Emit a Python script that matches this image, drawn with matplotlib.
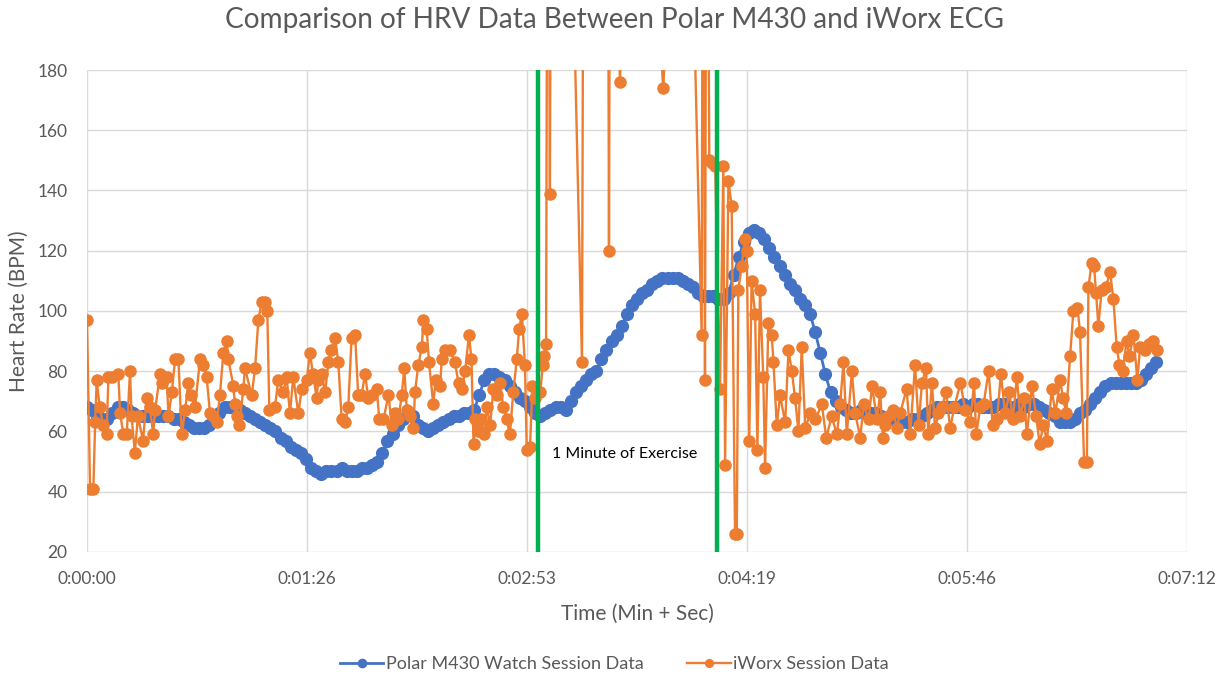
import matplotlib
matplotlib.use("Agg")
import matplotlib.pyplot as plt
import numpy as np

plt.rcParams['font.family'] = ['Lato', 'DejaVu Sans']

# Polar M430 watch, one reading every 2 s (t = 0 .. 420 s)
polar_step = 2
polar_hr = [68, 67, 65, 64, 64, 66, 68, 68, 67, 66, 65, 65, 65, 65, 65, 65, 65, 64, 64, 63,
            62, 61, 61, 61, 62, 64, 66, 68, 68, 68, 67, 66, 65, 64, 63, 62, 61, 60, 58, 57,
            55, 54, 53, 51, 48, 47, 46, 47, 47, 47, 48, 47, 47, 47, 48, 48, 49, 50, 53, 57,
            59, 62, 64, 66, 65, 62, 61, 60, 61, 62, 63, 64, 65, 65, 66, 66, 67, 72, 77, 79,
            79, 78, 77, 75, 73, 71, 70, 68, 66, 65, 66, 67, 68, 68, 67, 70, 73, 75, 77, 79,
            80, 84, 87, 90, 92, 95, 99, 102, 104, 106, 107, 109, 110, 111, 111, 111, 111, 110, 109, 108,
            106, 105, 105, 105, 104, 104, 106, 112, 118, 123, 126, 127, 126, 124, 121, 118, 115, 112, 109, 107,
            104, 102, 99, 93, 86, 79, 73, 70, 68, 67, 66, 66, 67, 66, 66, 66, 65, 64, 64, 64,
            63, 63, 64, 64, 65, 66, 67, 68, 68, 68, 68, 68, 69, 68, 69, 69, 68, 68, 68, 69,
            69, 68, 68, 69, 68, 69, 69, 68, 67, 66, 65, 63, 63, 63, 64, 66, 67, 69, 71, 73,
            75, 76, 76, 76, 76, 76, 76, 77, 79, 81, 83]
polar_t = np.arange(len(polar_hr)) * polar_step

# iWorx ECG beat times (s) and heart rate (values above 180 run off the chart)
ecg_t = [0, 1.2, 2.5, 3.2, 3.8, 5.0, 6.4, 7.7, 8.4, 9.7, 12.3, 13.0, 14.3, 15.6, 16.9, 17.5, 18.8,
         20.0, 22.0, 23.4, 24.7, 26.0, 26.7, 28.7, 29.3, 31.3, 32.0, 33.3, 34.6, 35.9, 37.2, 38.5,
         39.8, 41.0, 42.4, 44.4, 45.7, 47.0, 48.3, 49.6, 50.9, 52.2, 53.5, 54.8, 55.5,
         57.5, 58.1, 58.8, 59.8, 61.4, 62.0, 64.7, 66.0, 67.3, 68.6, 69.9, 70.8, 71.6, 73.8, 75.1,
         77.1, 78.4, 79.7, 81.0, 83.0, 84.3, 86.3, 87.5, 88.8, 90.2, 90.8, 92.1, 93.5, 94.8, 96.0,
         97.4, 98.7, 100.0, 101.4, 102.6, 103.9, 105.3, 106.5, 107.8, 109.2, 110.5, 111.8, 113.8, 114.8,
         116.4, 118.4, 119.7, 121.0, 122.3, 123.6, 124.6, 125.6, 126.9, 128.2, 128.8, 130.1, 131.5,
         132.1, 133.4, 134.3, 136.0, 136.9, 138.7, 139.3, 140.6, 142.6, 144.5, 145.9, 147.2, 148.5,
         150.0, 151.0, 151.8, 152.5, 153.5, 154.6, 155.8, 157.0, 158.3, 159.6, 160.9, 162.2, 163.5,
         164.8, 166.1, 167.4, 168.8, 169.7, 170.8, 172.0, 172.7, 174.0, 174.9, 176.0,
         178.0, 179.0, 179.6, 180.3, 181.0, 181.8, 182.5, 188.0, 194.4, 195.2, 204.4, 205.0, 205.6,
         209.3, 215.0, 226.3, 235.0, 241.4, 242.0, 242.7, 243.4,
         244.4, 245.5, 246.7, 248.6, 249.9, 250.6, 251.9, 253.2, 254.5, 255.2, 255.8, 257.1, 258.4,
         259.1, 260.1, 261.0, 262.4, 263.3, 264.3, 265.6, 266.3, 267.6, 268.9, 269.6, 270.9, 272.2,
         274.2, 275.5, 276.8, 278.1, 279.4, 280.7, 282.1, 284.0, 286.0, 288.6, 290.3, 292.5, 294.5,
         295.8, 297.1, 298.4, 300.4, 301.7, 303.7, 305.0, 307.0, 308.3, 310.3, 311.5, 312.6,
         313.4, 314.7, 316.7, 318.0, 319.3, 321.9, 323.3, 325.2, 326.6, 327.9, 329.5, 330.4, 331.8,
         333.1, 334.4, 335.7, 337.4, 339.0, 340.6, 343.0, 345.0, 346.9, 348.4, 349.2, 350.8, 352.1,
         354.1, 355.7, 357.4, 358.9, 360.6, 362.3, 363.6, 365.2, 366.5, 368.1, 369.1, 371.1, 372.8,
         374.1, 375.6, 377.0, 378.9, 380.3, 382.2, 383.3, 384.6, 386.1, 387.4, 389.0, 390.0, 391.6,
         392.7, 393.3, 394.6, 395.5, 396.3, 397.2, 398.5, 400.2, 401.8, 403.1, 404.4, 405.5, 406.8,
         408.3, 409.4, 411.0, 412.5, 413.6, 415.5, 417.2, 418.5, 420.1]
ecg_hr = [97, 41, 41, 63, 77, 68, 62, 59, 78, 78, 79, 66, 59, 59, 80, 65, 53,
          65, 57, 71, 68, 59, 67, 79, 76, 78, 65, 73, 84, 84, 59, 67,
          76, 72, 68, 84, 82, 78, 66, 65, 63, 72, 86, 90, 84,
          75, 69, 65, 62, 74, 81, 72, 81, 97, 103, 103, 100, 67, 68, 77,
          73, 78, 66, 78, 66, 74, 77, 86, 79, 71, 77, 79, 73, 83, 87,
          91, 83, 64, 63, 68, 91, 92, 72, 72, 79, 71, 72, 74, 64,
          64, 72, 62, 66, 64, 72, 81, 67, 65, 61, 73, 82, 88,
          97, 94, 83, 69, 77, 75, 84, 87, 87, 83, 76, 74, 80,
          92, 84, 56, 64, 60, 64, 59, 68, 62, 74, 72, 76, 68,
          64, 59, 73, 84, 94, 99, 82, 54, 55, 75, 71,
          73, 82, 85, 89, 320, 139, 330, 320, 83, 320, 320, 120, 320,
          176, 330, 174, 320, 92, 320, 77, 320,
          150, 149, 148, 74, 148, 49, 143, 135, 26, 26, 107, 115, 124,
          120, 57, 110, 99, 54, 107, 78, 48, 96, 92, 83, 62, 72,
          63, 87, 80, 71, 60, 88, 61, 66, 64, 69, 58, 65, 59,
          69, 83, 59, 80, 66, 58, 69, 64, 75, 64, 73, 58,
          62, 65, 67, 61, 66, 74, 59, 82, 62, 76, 81, 59, 76,
          61, 66, 68, 73, 61, 68, 76, 67, 63, 76, 59, 68, 69,
          80, 62, 64, 79, 66, 73, 64, 78, 65, 71, 59, 75, 65,
          56, 62, 57, 74, 66, 77, 71, 66, 85, 100, 101, 93, 50,
          50, 108, 116, 115, 106, 95, 107, 108, 113, 104, 88, 82, 80,
          90, 85, 92, 77, 88, 87, 89, 90, 87]

# exercise window (s)
exercise_start = 177.3
exercise_end = 247.3

xtick_pos = [0, 86.4, 172.8, 259.2, 345.6, 432]
xtick_labels = ['0:00:00', '0:01:26', '0:02:53', '0:04:19', '0:05:46', '0:07:12']
ytick_pos = [20, 40, 60, 80, 100, 120, 140, 160, 180]

grey = '#595959'
blue = '#4472c4'
orange = '#ed7d31'

fig = plt.figure(figsize=(12.29, 6.85), dpi=100)
ax = fig.add_axes([0.0708, 0.1942, 0.8950, 0.7036])

ax.plot(polar_t, polar_hr, '-o', color=blue, markersize=8.5, linewidth=2,
        label='Polar M430 Watch Session Data', zorder=3)
ax.plot(ecg_t, ecg_hr, '-o', color=orange, markersize=8, linewidth=1.7,
        label='iWorx Session Data', zorder=4)

ax.axvline(exercise_start, color='#00b050', linewidth=3.2, zorder=5)
ax.axvline(exercise_end, color='#00b050', linewidth=3.2, zorder=5)
ax.text(182.5, 52.5, '1 Minute of Exercise', fontsize=11.5, color='black', va='center', zorder=6)

ax.set_xlim(0, 432)
ax.set_ylim(20, 180)
ax.set_xticks(xtick_pos)
ax.set_xticklabels(xtick_labels)
ax.set_yticks(ytick_pos)
ax.grid(True, color='#d9d9d9', linewidth=1)
ax.set_axisbelow(True)
for s in ax.spines.values():
    s.set_visible(False)
ax.tick_params(length=0, labelsize=12.5, colors=grey, pad=14)
ax.tick_params(axis='y', pad=14)

ax.set_xlabel('Time (Min + Sec)', fontsize=15, color=grey, labelpad=12)
ax.set_ylabel('Heart Rate (BPM)', fontsize=15, color=grey, labelpad=6)
fig.suptitle('Comparison of HRV Data Between Polar M430 and iWorx ECG',
             fontsize=20.2, color=grey, y=0.99)

fig.legend(loc='lower center', bbox_to_anchor=(0.5, -0.005), ncol=2, frameon=False,
           fontsize=13, labelcolor=grey, handlelength=2.4, handletextpad=0.15,
           columnspacing=2.4, markerscale=0.7)

fig.savefig('out.png', dpi=100)
